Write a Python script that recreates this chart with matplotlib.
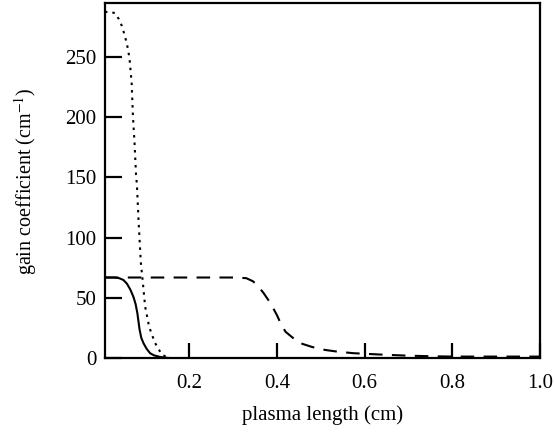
import matplotlib
matplotlib.use("Agg")
import matplotlib.pyplot as plt

# solid curve
solid_x = [0.008, 0.03, 0.04, 0.05, 0.058, 0.066, 0.073, 0.078, 0.082, 0.087,
           0.091, 0.096, 0.103, 0.111, 0.12, 0.134, 0.15, 0.18]
solid_y = [67, 67, 66.5, 65, 62, 57, 51, 45, 37.5, 24,
           17, 12.6, 8, 4.3, 2.5, 1.2, 0.4, 0]

# dotted curve
dot_x = [0.008, 0.02, 0.031, 0.04, 0.046, 0.052, 0.058, 0.064, 0.069, 0.072,
         0.0755, 0.079, 0.081, 0.085, 0.09, 0.094, 0.0997, 0.109, 0.122, 0.138,
         0.15, 0.16]
dot_y = [287, 287, 286, 281, 276, 269, 261, 249, 228, 200,
         179, 152, 144, 112, 79, 65, 43, 26, 13, 3,
         1, 0]

# dashed curve
dash_x = [0.008, 0.1, 0.2, 0.3, 0.33, 0.345, 0.355, 0.37, 0.385, 0.4,
          0.41, 0.42, 0.43, 0.45, 0.48, 0.51, 0.54, 0.575, 0.635, 0.695,
          0.75, 0.8, 0.9, 1.0]
dash_y = [67, 67, 67, 67, 66.5, 64, 61, 54, 46, 36,
          28, 22, 19, 13, 9.5, 7, 5.5, 4.3, 3.2, 2.3,
          1.8, 1.5, 1.5, 1.5]

x_ticks = [0.2, 0.4, 0.6, 0.8, 1.0]
x_labels = ["0.2", "0.4", "0.6", "0.8", "1.0"]
y_ticks = [0, 50, 100, 150, 200, 250]

plt.rcParams['font.family'] = ['Liberation Serif', 'DejaVu Serif']
plt.rcParams['mathtext.fontset'] = 'stix'

fig = plt.figure(figsize=(5.55, 4.36), dpi=100)
ax = fig.add_axes([0.189, 0.178, 0.784, 0.814])

lw = 1.5
ax.plot(solid_x, solid_y, color='black', lw=lw, solid_capstyle='butt')
ax.plot(dot_x, dot_y, color='black', lw=lw, linestyle=(0, (1.2, 2.4)))
ax.plot(dash_x, dash_y, color='black', lw=lw, linestyle=(0, (6.5, 4.5)))

ax.set_xlim(0.008, 1.0)
ax.set_ylim(0, 294)
ax.set_xticks(x_ticks)
ax.set_xticklabels(x_labels)
ax.set_yticks(y_ticks)

for s in ax.spines.values():
    s.set_linewidth(1.6)
ax.tick_params(direction='in', width=1.6, labelsize=15)
ax.tick_params(axis='y', length=12, pad=6)
ax.tick_params(axis='x', length=10.5, pad=11)

ax.set_xlabel("plasma length (cm)", fontsize=15, labelpad=9)
ax.set_ylabel("gain coefficient (cm$^{-1}$)", fontsize=14.5, labelpad=19)

fig.savefig("out.png", dpi=100)
